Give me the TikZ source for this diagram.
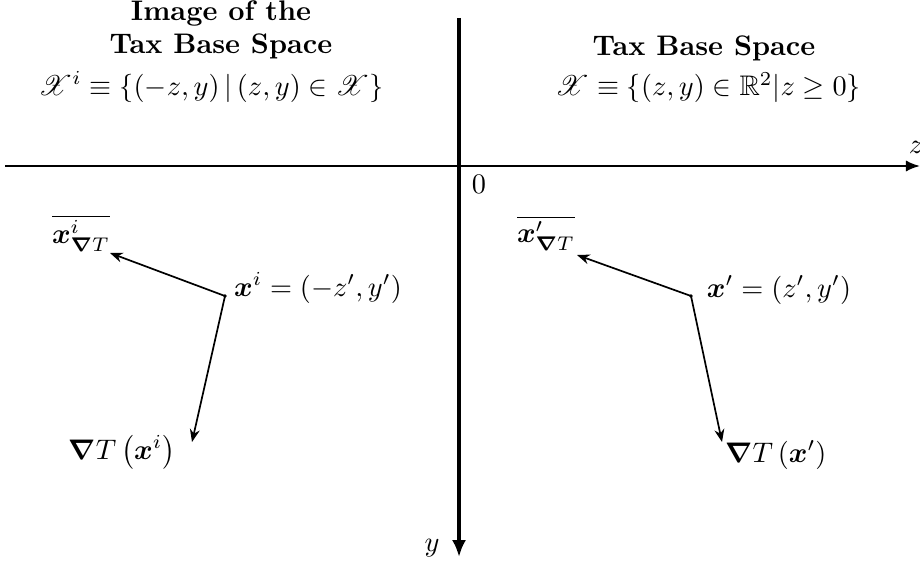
\documentclass[tikz,border=0pt]{standalone}
\usepackage{amsmath,amssymb,bm}
\usepackage{mathrsfs}
\usetikzlibrary{arrows.meta}
\begin{document}
\begin{tikzpicture}[x=0.3533pt,y=-0.3533pt,
  axis/.style={line width=0.8pt,-{Latex[length=5pt,width=4pt]}},
  vaxis/.style={line width=1.6pt,-{Latex[length=6pt,width=5pt]}},
  vec/.style={line width=0.6pt,-{Stealth[length=4.5pt,width=3.5pt]}},
  lbl/.style={inner sep=0pt},
  ttl/.style={inner sep=0pt,font=\bfseries}]
\useasboundingbox (0,0) rectangle (920,566);
% axes
\coordinate (hl) at (5,166);
\coordinate (hr) at (920,166);
\coordinate (vt) at (459,18);
\coordinate (vb) at (459,557);
\draw[axis] (hl) -- (hr);
\draw[vaxis] (vt) -- (vb);
\node[lbl] (zl) at (916,147) {$z$};
\node[lbl] (yl) at (432,548) {$y$};
\node[lbl] (zero) at (479,184) {$0$};
% titles
\node[ttl] (t1) at (221,13) {Image of the};
\node[ttl] (t2) at (221,46) {Tax Base Space};
\node[lbl] (f1) at (211,87) {$\mathscr{X}^i \equiv \{(-z,y)\,|\,(z,y)\in\mathscr{X}\}$};
\node[ttl] (t3) at (704,48) {Tax Base Space};
\node[lbl] (f2) at (708,88) {$\mathscr{X} \equiv \{(z,y)\in\mathbb{R}^2 | z\geq 0\}$};
% left quadrant
\coordinate (pl) at (225,296);
\fill (pl) circle (1.8);
\node[lbl] (plab) at (318,288) {$\bm{x}^i=(-z',y')$};
\node[lbl] (nbl) at (81,233) {$\overline{\bm{x}^i_{\bm{\nabla}T}}$};
\node[lbl] (gl) at (122,452) {$\bm{\nabla}T\left(\bm{x}^i\right)$};
\coordinate (al) at (110,253);
\coordinate (bl) at (192,442);
\draw[vec] (pl) -- (al);
\draw[vec] (pl) -- (bl);
% right quadrant
\coordinate (pr) at (691,296);
\fill (pr) circle (1.8);
\node[lbl] (prlab) at (779,290) {$\bm{x}'=(z',y')$};
\node[lbl] (nbr) at (546,233) {$\overline{\bm{x}'_{\bm{\nabla}T}}$};
\node[lbl] (gr) at (776,455) {$\bm{\nabla}T\left(\bm{x}'\right)$};
\coordinate (ar) at (577,255);
\coordinate (br) at (722,442);
\draw[vec] (pr) -- (ar);
\draw[vec] (pr) -- (br);
\end{tikzpicture}
\end{document}
